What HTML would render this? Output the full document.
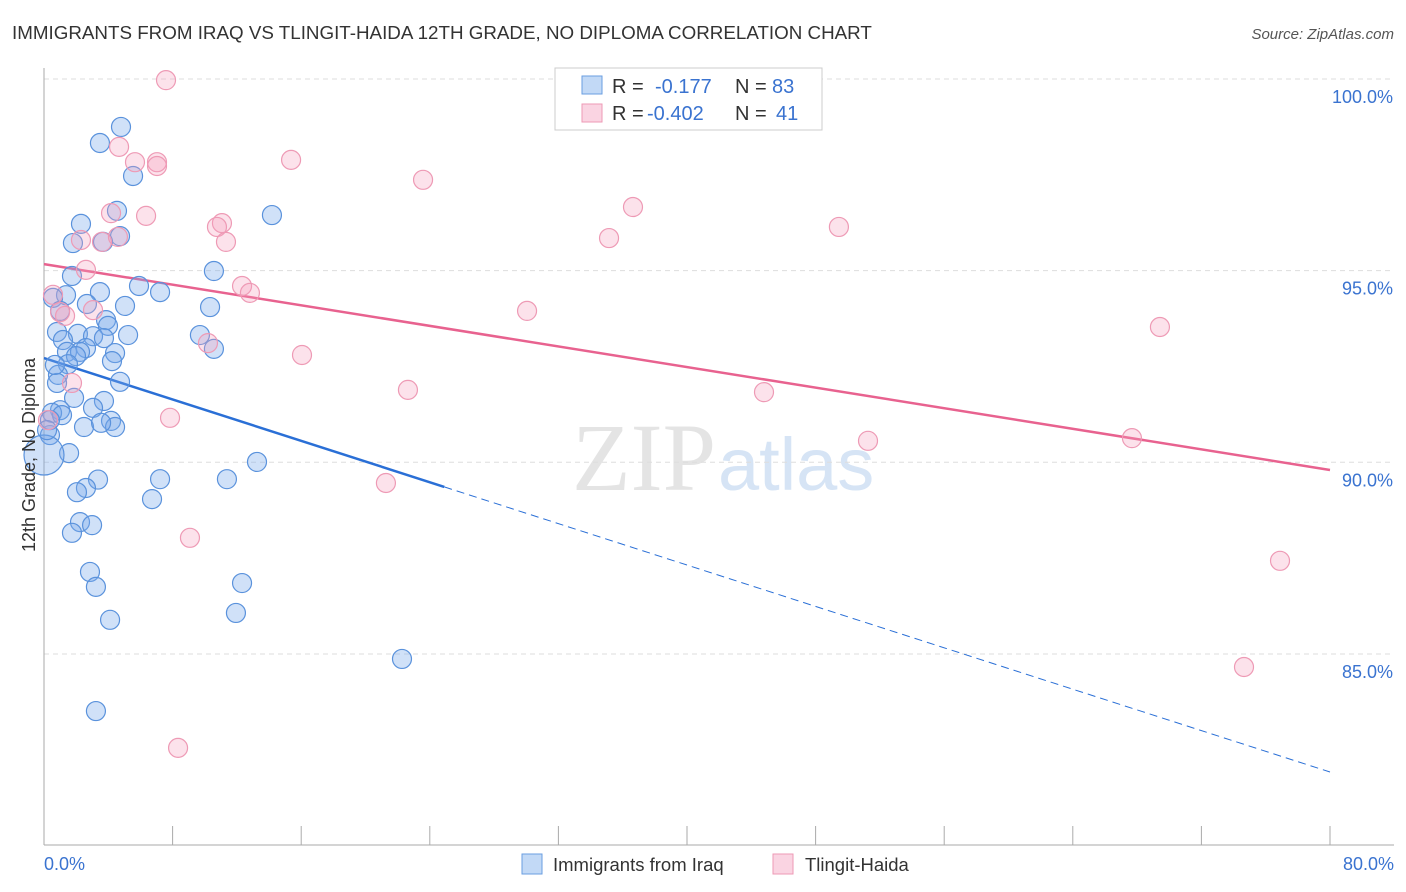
<!DOCTYPE html>
<html><head><meta charset="utf-8">
<style>
body{margin:0;background:#fff;font-family:"Liberation Sans",sans-serif;}
svg{display:block}
</style></head>
<body>
<svg id="chart" width="1406" height="892">
<text x="12" y="39" font-size="18.8" fill="#333">IMMIGRANTS FROM IRAQ VS TLINGIT-HAIDA 12TH GRADE, NO DIPLOMA CORRELATION CHART</text>
<text x="1394" y="39" font-size="15" fill="#555" font-style="italic" text-anchor="end">Source: ZipAtlas.com</text>
<text x="716" y="490" font-size="96" fill="#e4e4e4" font-family="Liberation Serif" text-anchor="end">ZIP</text>
<text x="718" y="490" font-size="74" fill="#d6e4f5">atlas</text>
<g id="grid"></g>
<g id="axes"></g>
<g id="lines"></g>
<g id="points"></g>
<text transform="translate(35,455) rotate(-90)" font-size="18" fill="#333" text-anchor="middle">12th Grade, No Diploma</text>
<g>
<rect x="555" y="68" width="267" height="62" fill="#fff" stroke="#ccc"/>
<rect x="582" y="76" width="20" height="18" fill="rgba(120,170,235,0.45)" stroke="#6a9ee0"/>
<rect x="582" y="104" width="20" height="18" fill="rgba(245,160,190,0.45)" stroke="#ee9ab5"/>
<text x="612" y="93" font-size="20" fill="#333">R =</text>
<text x="655" y="93" font-size="20" fill="#3a73d0">-0.177</text>
<text x="735" y="93" font-size="20" fill="#333">N =</text>
<text x="772" y="93" font-size="20" fill="#3a73d0">83</text>
<text x="612" y="120" font-size="20" fill="#333">R =</text>
<text x="647" y="120" font-size="20" fill="#3a73d0">-0.402</text>
<text x="735" y="120" font-size="20" fill="#333">N =</text>
<text x="776" y="120" font-size="20" fill="#3a73d0">41</text>
</g>
<g>
<rect x="522" y="854" width="20" height="20" fill="rgba(120,170,235,0.45)" stroke="#6a9ee0"/>
<text x="553" y="871" font-size="18.5" fill="#333">Immigrants from Iraq</text>
<rect x="773" y="854" width="20" height="20" fill="rgba(245,160,190,0.45)" stroke="#ee9ab5"/>
<text x="805" y="871" font-size="18.5" fill="#333">Tlingit-Haida</text>
</g>
</svg>
<script>
const blueX=[4.79,3.48,5.54,4.54,2.30,14.18,4.73,1.80,3.67,10.57,1.74,5.91,7.22,3.48,1.37,0.56,2.67,5.04,10.33,1.00,3.86,3.98,0.81,2.11,3.05,5.23,9.70,1.18,3.73,2.61,10.57,1.43,2.24,4.42,1.99,4.23,1.49,0.87,4.73,0.81,1.87,3.73,3.05,1.00,0.50,1.12,4.17,2.49,4.42,3.55,0.37,1.56,13.25,0,3.36,2.61,7.22,11.38,2.05,6.72,2.24,2.99,1.74,2.86,3.23,12.32,4.11,11.94,22.27,3.23,0.37,0.19,0.68];
const blueY=[98.75,98.33,97.47,96.56,96.22,96.45,95.90,95.72,95.75,94.99,94.86,94.60,94.44,94.44,94.36,94.29,94.13,94.08,94.05,93.95,93.71,93.56,93.40,93.35,93.29,93.32,93.32,93.19,93.24,92.98,92.96,92.88,92.88,92.85,92.77,92.64,92.56,92.28,92.10,92.07,91.68,91.60,91.42,91.36,91.29,91.23,91.08,90.92,90.92,91.03,90.71,90.24,90.01,90.19,89.55,89.33,89.56,89.56,89.22,89.04,88.44,88.36,88.16,87.14,86.75,86.85,85.89,86.07,84.87,83.51,91.10,90.84,92.54];
const pinkX=[7.59,4.67,5.66,7.03,7.03,15.37,23.58,36.64,6.35,4.17,11.07,10.76,35.15,49.45,2.30,3.61,4.60,11.32,2.61,12.32,12.81,0.56,3.05,1.31,30.05,69.42,10.20,16.05,22.64,44.79,1.74,7.84,51.26,67.68,21.27,9.08,76.89,74.65,8.34,0.25,1.00];
const pinkY=[99.97,98.23,97.83,97.83,97.73,97.89,97.37,96.66,96.43,96.50,96.24,96.14,95.85,96.14,95.80,95.75,95.88,95.75,95.02,94.60,94.42,94.37,93.97,93.82,93.95,93.53,93.11,92.80,91.89,91.83,92.07,91.16,90.56,90.63,89.46,88.03,87.43,84.66,82.55,91.10,93.92];
const yTicks=[100,95,90,85];
const yTickLabels=["100.0%","95.0%","90.0%","85.0%"];
const xTicks=[0,8,16,24,32,40,48,56,64,72,80];
const blueTrend=[92.72,81.92];
const blueSolidEnd=24.9;
const pinkTrend=[95.17,89.80];

const NS="http://www.w3.org/2000/svg";
const sx=v=>44+v/80*1286;
const sy=v=>79+(100-v)*38.33;
function mk(tag,attrs,parent){const e=document.createElementNS(NS,tag);for(const k in attrs)e.setAttribute(k,attrs[k]);document.getElementById(parent).appendChild(e);return e;}

yTicks.forEach((t,i)=>{
  const l=mk('line',{x1:44,x2:1394,y1:sy(t),y2:sy(t),stroke:'#ddd','stroke-dasharray':'5,4'},'grid');
  
  
  const tx=mk('text',{x:1393,y:sy(t)+24,'font-size':18,fill:'#3a73d0','text-anchor':'end'},'grid');
  tx.textContent=yTickLabels[i];
  
  
});
const ax=mk('line',{x1:44,x2:44,y1:68,y2:845,stroke:'#aaa'},'axes');


const bx=mk('line',{x1:44,x2:1394,y1:845,y2:845,stroke:'#aaa'},'axes');


xTicks.forEach(t=>{
  const l=mk('line',{x1:sx(t),x2:sx(t),y1:826,y2:845,stroke:'#aaa'},'axes');
  
  
});
const xl0=mk('text',{x:44,y:870,'font-size':18,fill:'#3a73d0'},'axes');xl0.textContent='0.0%';


const xl1=mk('text',{x:1394,y:870,'font-size':18,fill:'#3a73d0','text-anchor':'end'},'axes');xl1.textContent='80.0%';



function dot(x,y,r,fill,stroke,name){
  const c=mk('circle',{cx:sx(x),cy:sy(y),r:r,fill:fill,stroke:stroke,'stroke-width':1.2},'points');
  
  
}
blueX.forEach((x,i)=>dot(x,blueY[i],(x===0?20:9.5),'rgba(120,170,235,0.35)','#5a92dc','iraq-point'));
pinkX.forEach((x,i)=>dot(x,pinkY[i],9.5,'rgba(245,160,190,0.3)','#ee9ab5','tlingit-point'));

const by=x=>blueTrend[0]+(blueTrend[1]-blueTrend[0])*x/80;
const b1=mk('line',{x1:sx(0),y1:sy(by(0)),x2:sx(blueSolidEnd),y2:sy(by(blueSolidEnd)),stroke:'#2a6fd6','stroke-width':2.5},'lines');


const b2=mk('line',{x1:sx(blueSolidEnd),y1:sy(by(blueSolidEnd)),x2:sx(80),y2:sy(by(80)),stroke:'#2a6fd6','stroke-width':1,'stroke-dasharray':'8,5'},'lines');


const p1=mk('line',{x1:sx(0),y1:sy(pinkTrend[0]),x2:sx(80),y2:sy(pinkTrend[1]),stroke:'#e8628f','stroke-width':2.5},'lines');


</script>
</body></html>
